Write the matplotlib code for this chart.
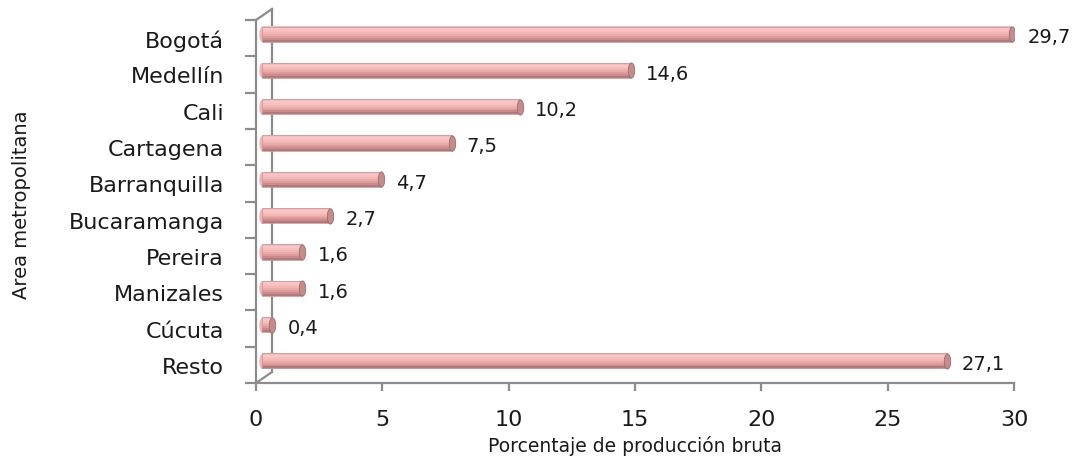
import matplotlib
matplotlib.use("Agg")
import matplotlib.pyplot as plt
import matplotlib.transforms as mtransforms
from matplotlib.path import Path
import numpy as np

# data
ciudades = ["Bogotá", "Medellín", "Cali", "Cartagena", "Barranquilla",
            "Bucaramanga", "Pereira", "Manizales", "Cúcuta", "Resto"]
porcentaje = [29.7, 14.6, 10.2, 7.5, 4.7, 2.7, 1.6, 1.6, 0.4, 27.1]
etiquetas = ["29,7", "14,6", "10,2", "7,5", "4,7", "2,7", "1,6", "1,6", "0,4", "27,1"]
xticks = [0, 5, 10, 15, 20, 25, 30]

gris = "#8c8c8c"
texto = "#1a1a1a"

fig = plt.figure(figsize=(10.76, 4.6), dpi=100)
ax = fig.add_axes([256 / 1076, 76 / 460, 758 / 1076, 363 / 460])
ax.set_xlim(0, 30)
ax.set_ylim(len(ciudades) - 0.5, -0.5)

ypos = np.arange(len(ciudades))

# bars sit a bit back in the depth of the 3d box
off_bar = mtransforms.offset_copy(ax.transData, fig=fig, x=6, y=4, units="dots")
h = 0.42
# cylinder shading, top strip to bottom strip
tonos = ["#f4bcbc", "#f7c6c6", "#f6c0c0", "#f2b6b6", "#eaaaaa",
         "#dc9c9c", "#c98b8b", "#b27a7a"]
n = len(tonos)
for i, c in enumerate(tonos):
    dy = -h / 2 + (i + 0.5) * h / n
    ax.barh(ypos + dy, porcentaje, height=h / n + 0.005, color=c,
            linewidth=0, transform=off_bar, zorder=3)
ax.barh(ypos, porcentaje, height=h, fill=False, edgecolor="#c99a9a",
        linewidth=0.6, transform=off_bar, zorder=3)

# rounded end caps
t = np.linspace(0, 2 * np.pi, 40)
elipse = Path(np.column_stack([0.42 * np.cos(t), np.sin(t)]))
ax.scatter(porcentaje, ypos, marker=elipse, s=120, color="#c48d8d",
           edgecolors="#a06a6a", linewidths=0.6, transform=off_bar, zorder=4)
ax.scatter([0] * len(ypos), ypos, marker=elipse, s=120, color="#efb5b5",
           linewidths=0, transform=off_bar, zorder=2)

for v, y, txt in zip(porcentaje, ypos, etiquetas):
    ax.annotate(txt, (v, y), xycoords=off_bar, xytext=(11, -2),
                textcoords="offset points", ha="left", va="center",
                fontsize=14, color=texto)

# 3d box: back wall line and the two diagonals
dx, dyb = 16, 11
back = mtransforms.offset_copy(ax.transAxes, fig=fig, x=dx, y=dyb, units="dots")
ax.plot([0, 0], [0, 1], color=gris, lw=1.6, transform=back, clip_on=False)
for yy in (0, 1):
    x0, y0 = ax.transAxes.transform((0, yy))
    ax.plot([x0, x0 + dx], [y0, y0 + dyb], color=gris, lw=1.6,
            transform=None, clip_on=False)

for side in ["top", "right"]:
    ax.spines[side].set_visible(False)
for side in ["left", "bottom"]:
    ax.spines[side].set_color(gris)
    ax.spines[side].set_linewidth(1.6)

ax.set_xticks(xticks)
ax.set_xticklabels([str(x) for x in xticks], fontsize=16, color=texto)
ax.tick_params(axis="x", length=6, width=1.6, color=gris, pad=13)

ax.set_yticks(ypos)
ax.set_yticklabels(ciudades, fontsize=16, color=texto)
ax.tick_params(axis="y", which="major", length=0, pad=23)
ax.set_yticks(np.arange(-0.5, len(ciudades)), minor=True)
ax.tick_params(axis="y", which="minor", length=8, width=1.6, color=gris)

ax.set_xlabel("Porcentaje de producción bruta", fontsize=13.5, color=texto,
              labelpad=4)
fig.text(22 / 1076, 1 - 205 / 460, "Area metropolitana", rotation=90,
         ha="center", va="center", fontsize=14, color=texto,
         family=["Liberation Sans Narrow", "DejaVu Sans"])

fig.savefig("out.png", dpi=100)
